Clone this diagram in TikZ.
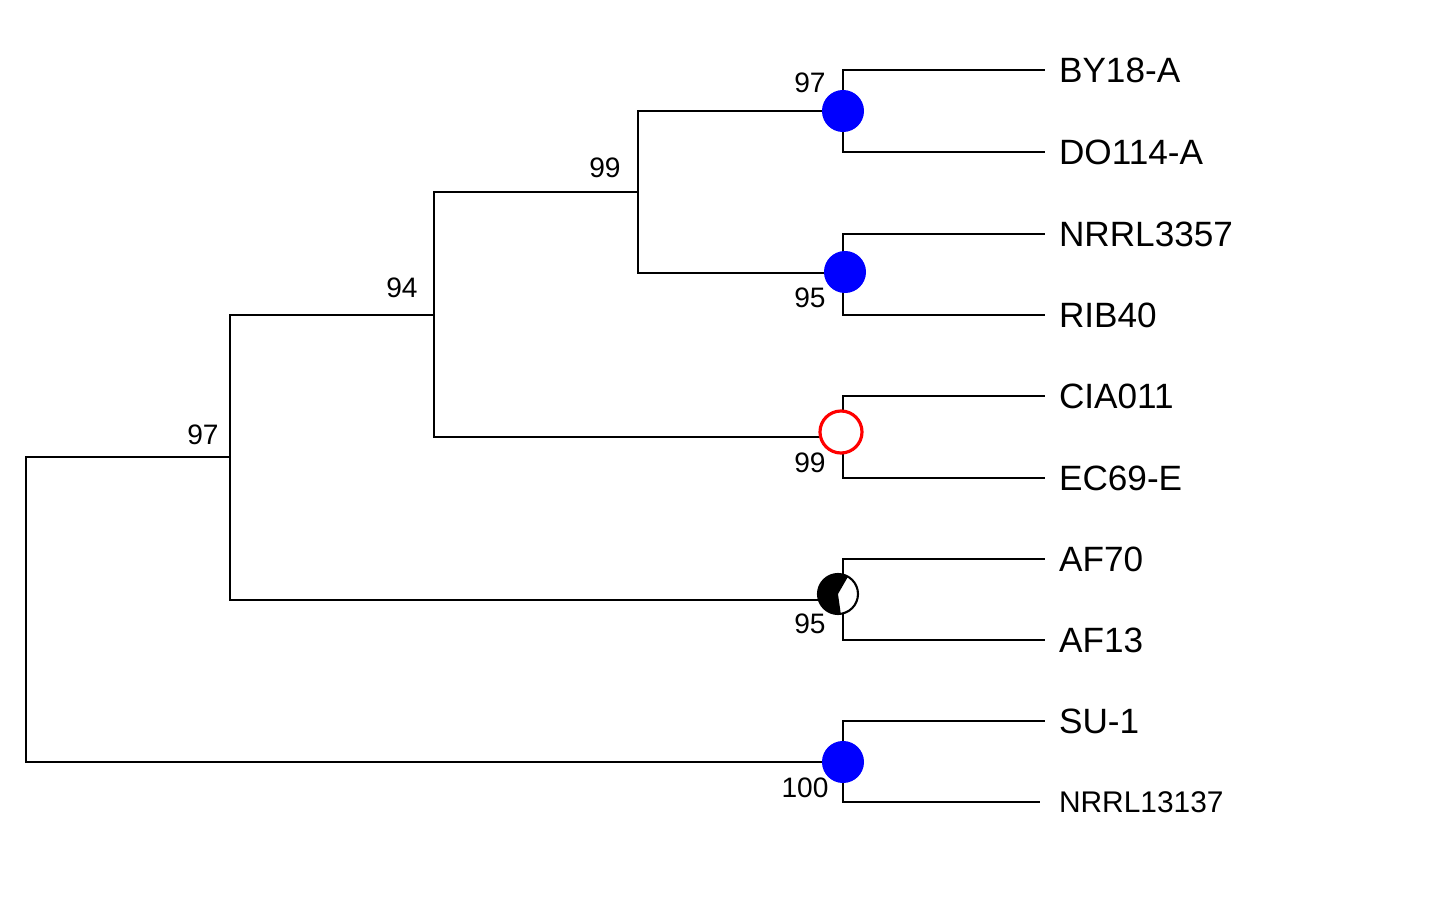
\documentclass[tikz,border=0pt]{standalone}
\usepackage{fontspec}
\setmainfont{Liberation Sans}
\begin{document}
\begin{tikzpicture}[x=0.01cm, y=-0.01cm, line width = 0.6pt,
                    leaf/.style = {anchor = west, font = \fontsize{10}{10}\selectfont, inner sep = 0pt},
                    boot/.style = {font = \fontsize{8}{8}\selectfont, inner sep = 0pt},
                    blue dot/.style = {circle, fill = blue, minimum size = 0.42cm, inner sep = 0pt},
                    red dot/.style = {circle, draw = red, fill = white, line width = 0.9pt, minimum size = 0.42cm, inner sep = 0pt}]
    \useasboundingbox (0,0) rectangle (1450,903);
    % leaves
    \node [leaf] (l1) at (1058, 70){BY18-A};
    \node [leaf] (l2) at (1058,152){DO114-A};
    \node [leaf] (l3) at (1058,234){NRRL3357};
    \node [leaf] (l4) at (1058,315){RIB40};
    \node [leaf] (l5) at (1058,396){CIA011};
    \node [leaf] (l6) at (1058,478){EC69-E};
    \node [leaf] (l7) at (1058,559){AF70};
    \node [leaf] (l8) at (1058,640){AF13};
    \node [leaf] (l9) at (1058,721){SU-1};
    \node [leaf, font = \fontsize{8.5}{8.5}\selectfont] (l10) at (1058,802){NRRL13137};
    % inner nodes
    \coordinate (n1) at (843,111);
    \coordinate (n2) at (843,273);
    \coordinate (n3) at (843,437);
    \coordinate (n4) at (843,600);
    \coordinate (n5) at (843,762);
    \coordinate (n12) at (638,192);
    \coordinate (n123) at (434,315);
    \coordinate (n1234) at (230,457);
    \coordinate (root) at (26,610);
    % clades
    \draw (n1) |- (l1.west -| 1045,0);
    \draw (n1) |- (l2.west -| 1045,0);
    \draw (n2) |- (l3.west -| 1045,0);
    \draw (n2) |- (l4.west -| 1045,0);
    \draw (n3) |- (l5.west -| 1045,0);
    \draw (n3) |- (l6.west -| 1045,0);
    \draw (n4) |- (l7.west -| 1045,0);
    \draw (n4) |- (l8.west -| 1045,0);
    \draw (n5) |- (l9.west -| 1045,0);
    \draw (n5) |- (l10.west -| 1040,0);
    \draw (n12) |- (n1);
    \draw (n12) |- (n2);
    \draw (n123) |- (n12);
    \draw (n123) |- (n3);
    \draw (n1234) |- (n123);
    \draw (n1234) |- (n4);
    \draw (root) |- (n1234);
    \draw (root) |- (n5);
    % markers
    \node [blue dot] at (843,111){};
    \node [blue dot] at (845,272){};
    \node [blue dot] at (843,762){};
    \node [red dot] at (841,432){};
    \fill [white] (838,594) circle (20);
    \fill [black] (838,594) -- ++(82:20) arc (82:300:20) -- cycle;
    \draw (838,594) circle (20);
    % support values
    \node [boot] at (810, 83){97};
    \node [boot] at (810,298){95};
    \node [boot] at (810,463){99};
    \node [boot] at (810,624){95};
    \node [boot] at (805,788){100};
    \node [boot] at (605,168){99};
    \node [boot] at (402,288){94};
    \node [boot] at (203,435){97};
\end{tikzpicture}
\end{document}
